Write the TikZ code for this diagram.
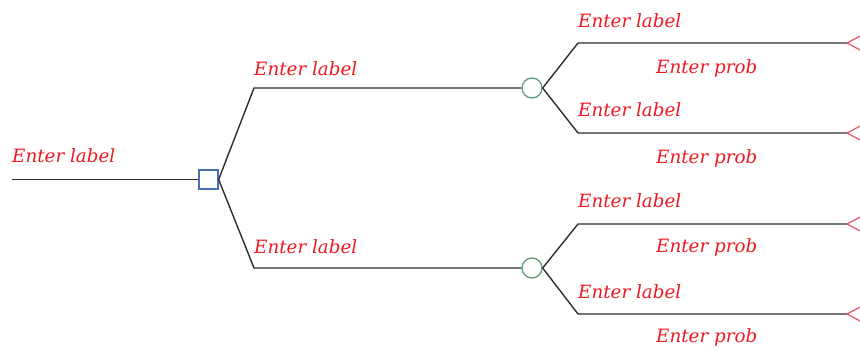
\documentclass[tikz,border=0pt]{standalone}
\usepackage{fontspec}
\setmainfont{DejaVu Serif}
\definecolor{linegray}{HTML}{2E2E2E}
\definecolor{decblue}{HTML}{4A6FB8}
\definecolor{chgreen}{HTML}{5A9E7A}
\definecolor{endred}{HTML}{E0606E}
\definecolor{txtred}{HTML}{EE1820}
\begin{document}
\begin{tikzpicture}[x=1pt,y=-1pt,
  branch/.style={draw=linegray,line width=1.4pt},
  decision/.style={draw=decblue,fill=white,line width=1.3pt,minimum size=19pt,inner sep=0pt,rectangle},
  chance/.style={draw=chgreen,fill=white,line width=1.3pt,circle,minimum size=20pt,inner sep=0pt},
  endtri/.style={draw=endred,line width=1.3pt},
  lbl/.style={anchor=base west,inner sep=0pt,text=txtred,font=\fontsize{18.3}{21}\selectfont\itshape}]
\useasboundingbox (0,0) rectangle (860,349);

% decision and chance nodes
\node[decision] (d) at (208.5,179.5) {};
\node[chance] (c1) at (532,88) {};
\node[chance] (c2) at (532,268) {};

% free ends and elbows
\coordinate (root) at (12,179.5);
\coordinate (e1) at (254,88);
\coordinate (e2) at (254,268);
\coordinate (f1) at (578,43);
\coordinate (f2) at (578,133);
\coordinate (f3) at (578,224);
\coordinate (f4) at (578,314);
\coordinate (t1) at (847,43);
\coordinate (t2) at (847,133);
\coordinate (t3) at (847,224);
\coordinate (t4) at (847,314);

% connectors
\draw[branch] (root) -- (d.west);
\draw[branch] (d.east) -- (e1) -- (c1.west);
\draw[branch] (d.east) -- (e2) -- (c2.west);
\draw[branch] (c1.east) -- (f1) -- (t1);
\draw[branch] (c1.east) -- (f2) -- (t2);
\draw[branch] (c2.east) -- (f3) -- (t3);
\draw[branch] (c2.east) -- (f4) -- (t4);

% terminal triangles
\foreach \t in {t1,t2,t3,t4}
  \draw[endtri] (\t) -- ++(16,-8.5) -- ++(0,17) -- cycle;

% labels
\node[lbl] (l0) at (12,162) {Enter label};
\node[lbl] (l1) at (254,75) {Enter label};
\node[lbl] (l2) at (254,253) {Enter label};
\node[lbl] (l3) at (578,27) {Enter label};
\node[lbl] (p3) at (656,73) {Enter prob};
\node[lbl] (l4) at (578,116) {Enter label};
\node[lbl] (p4) at (656,163) {Enter prob};
\node[lbl] (l5) at (578,207) {Enter label};
\node[lbl] (p5) at (656,252) {Enter prob};
\node[lbl] (l6) at (578,298) {Enter label};
\node[lbl] (p6) at (656,342) {Enter prob};
\end{tikzpicture}
\end{document}
